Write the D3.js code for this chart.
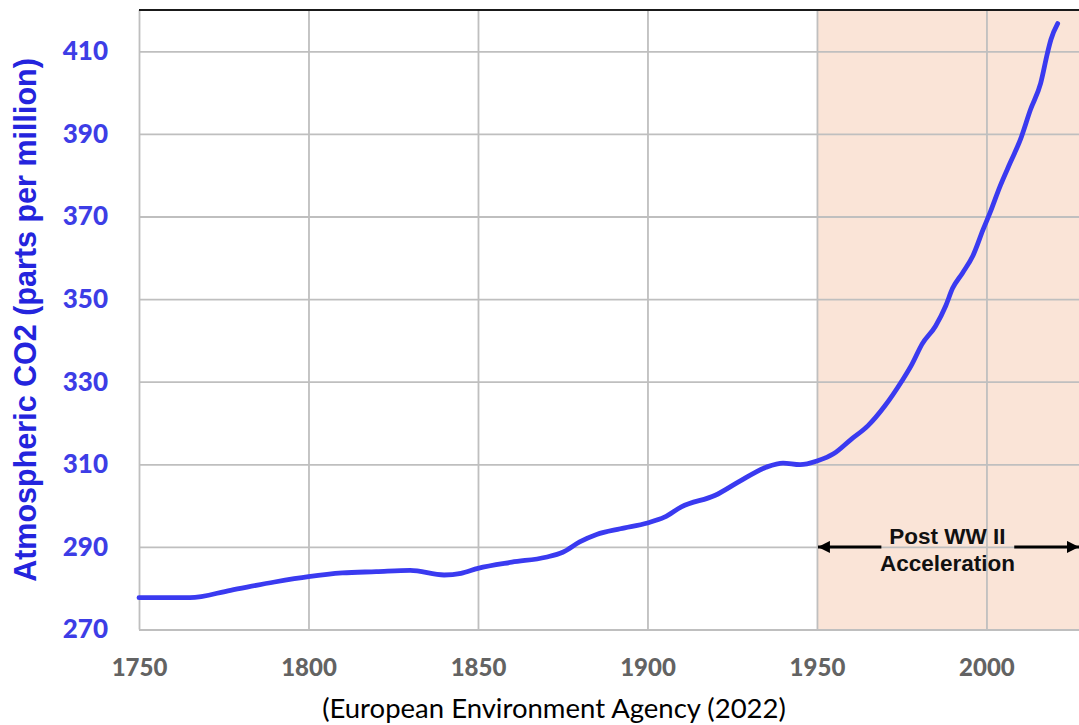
<!DOCTYPE html>
<html>
<head>
<meta charset="utf-8">
<script src="https://cdn.jsdelivr.net/npm/d3@7"></script>
<style>
  body { margin: 0; background: #fff; }
</style>
</head>
<body>
<svg id="co2_plot" width="1079" height="725"></svg>
<script>
// data
const years = [1750, 1765, 1777, 1790, 1800, 1810, 1820, 1830, 1840, 1845, 1850, 1860, 1870, 1875, 1880,
  1885, 1892, 1900, 1905, 1910, 1920, 1927, 1935, 1940, 1945, 1950, 1955, 1960, 1965, 1970, 1975, 1978,
  1981, 1985, 1988, 1990, 1993, 1996, 1999, 2001, 2004, 2007, 2010, 2013, 2016, 2018, 2019, 2021];
const co2 = [277.7, 277.7, 279.5, 281.5, 282.8, 283.7, 284.0, 284.3, 283.2, 283.6, 284.8, 286.3, 287.5, 288.7, 291.2,
  293.0, 294.4, 295.8, 297.2, 299.7, 302.5, 305.8, 309.3, 310.3, 309.9, 310.8, 312.6, 316.0, 319.3, 324.1, 330.1, 334.2,
  339.1, 343.5, 348.4, 352.6, 356.4, 360.5, 366.8, 370.8, 377.3, 383.0, 388.6, 395.9, 402.3, 409.6, 412.8, 416.7];
const xTicks = [1750, 1800, 1850, 1900, 1950, 2000];
const yTicks = [270, 290, 310, 330, 350, 370, 390, 410];
const shadeStart = 1950;
const annotationLines = ["Post WW II", "Acceleration"];
const yTitle = "Atmospheric CO2 (parts per million)";
const caption = "(European Environment Agency (2022)";

const svg = d3.select("svg#co2_plot");

//chart plot area
const padding = { top: 10, right: 0, bottom: 95.5, left: 139 };
const chartArea = {
  width: +svg.attr("width") - padding.left - padding.right,
  height: +svg.attr("height") - padding.top - padding.bottom
};

//scale functions
const xScale = d3.scaleLinear().domain([1750, 2027.3]).range([0, chartArea.width]);
const yScale = d3.scaleLinear().domain([270, 420]).range([chartArea.height, 0]);

const g = svg.append("g").attr("transform", `translate(${padding.left}, ${padding.top})`);

// shaded post-war band
g.append("rect")
  .attr("x", xScale(shadeStart))
  .attr("y", 0)
  .attr("width", chartArea.width - xScale(shadeStart))
  .attr("height", chartArea.height)
  .attr("fill", "#fae4d7");

// y axis + horizontal grid
const yAxis = g.append("g")
  .call(d3.axisLeft(yScale).tickValues(yTicks).tickSizeInner(-chartArea.width).tickSizeOuter(0).tickPadding(31));
yAxis.select(".domain").remove();
yAxis.selectAll("line").attr("stroke", "#bfbfbf").attr("stroke-width", 1.8);
yAxis.selectAll("text")
  .attr("fill", "#3d3de6")
  .style("font-family", "Lato, 'Open Sans', sans-serif")
  .style("font-weight", "900")
  .style("font-size", "26px");

// x axis + vertical grid
const xAxis = g.append("g")
  .attr("transform", `translate(0, ${chartArea.height})`)
  .call(d3.axisBottom(xScale).tickValues(xTicks).tickFormat(d3.format("d"))
    .tickSizeInner(-chartArea.height).tickSizeOuter(0).tickPadding(29));
xAxis.select(".domain").remove();
xAxis.selectAll("line").attr("stroke", "#bfbfbf").attr("stroke-width", 1.8);
xAxis.selectAll("text")
  .attr("fill", "#636363")
  .style("font-family", "Lato, 'Open Sans', sans-serif")
  .style("font-weight", "900")
  .style("font-size", "24px");

// top border
g.append("line")
  .attr("x1", 0).attr("x2", chartArea.width)
  .attr("y1", 0).attr("y2", 0)
  .attr("stroke", "#1a1a1a").attr("stroke-width", 2);

// co2 line
const line = d3.line()
  .x((d, i) => xScale(years[i]))
  .y(d => yScale(d))
  .curve(d3.curveMonotoneX);

g.append("path")
  .datum(co2)
  .attr("fill", "none")
  .attr("stroke", "#3a3af0")
  .attr("stroke-width", 4.8)
  .attr("stroke-linejoin", "round")
  .attr("stroke-linecap", "round")
  .attr("d", line);

// annotation arrows
const defs = svg.append("defs");
defs.append("marker")
  .attr("id", "arrow")
  .attr("viewBox", "0 0 10 10")
  .attr("refX", 10).attr("refY", 5)
  .attr("markerWidth", 5.5).attr("markerHeight", 4)
  .attr("markerUnits", "strokeWidth")
  .attr("orient", "auto")
  .append("path")
  .attr("d", "M0,0 L10,5 L0,10 Z")
  .attr("fill", "#000");

const arrowY = yScale(290);
g.append("line")
  .attr("x1", xScale(1969)).attr("x2", xScale(1950) + 1)
  .attr("y1", arrowY).attr("y2", arrowY)
  .attr("stroke", "#000").attr("stroke-width", 3)
  .attr("marker-end", "url(#arrow)");
g.append("line")
  .attr("x1", xScale(2008.2)).attr("x2", chartArea.width)
  .attr("y1", arrowY).attr("y2", arrowY)
  .attr("stroke", "#000").attr("stroke-width", 3)
  .attr("marker-end", "url(#arrow)");

g.selectAll("text.note")
  .data(annotationLines)
  .enter()
  .append("text")
  .attr("class", "note")
  .attr("x", xScale(1988.5))
  .attr("y", (d, i) => arrowY - 3 + i * 27)
  .attr("text-anchor", "middle")
  .attr("fill", "#111")
  .style("font-family", "Arial, 'Liberation Sans', sans-serif")
  .style("font-weight", "bold")
  .style("font-size", "22.5px")
  .text(d => d);

// y title
svg.append("text")
  .attr("transform", `translate(36, 320) rotate(-90)`)
  .attr("text-anchor", "middle")
  .attr("fill", "#2424dd")
  .style("font-family", "Arial, 'Liberation Sans', sans-serif")
  .style("font-weight", "bold")
  .style("font-size", "30.5px")
  .text(yTitle);

// source caption
svg.append("text")
  .attr("x", 554)
  .attr("y", 718)
  .attr("text-anchor", "middle")
  .attr("fill", "#000")
  .style("font-family", "Lato, 'Open Sans', sans-serif")
  .style("font-size", "27.5px")
  .text(caption);
</script>
</body>
</html>
